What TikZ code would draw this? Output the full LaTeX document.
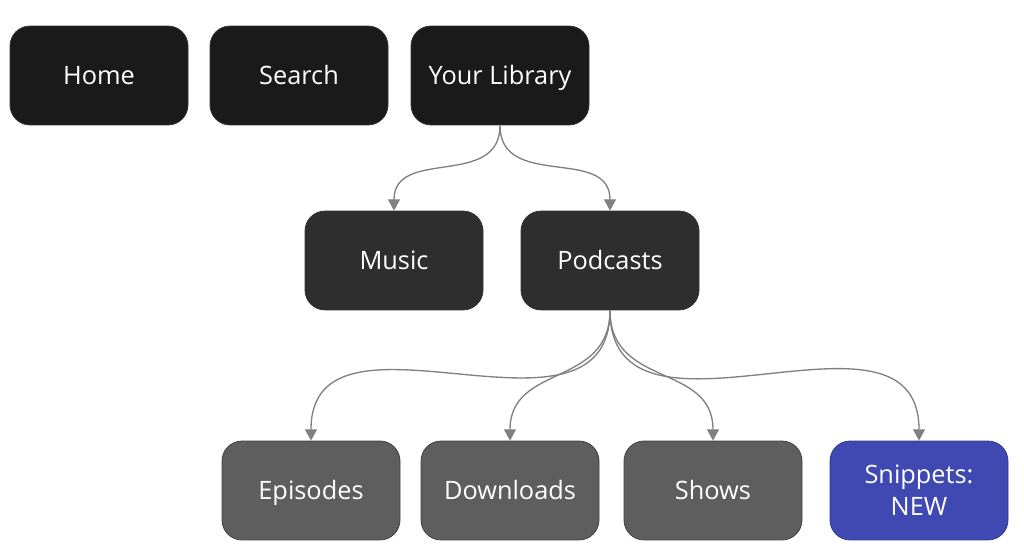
\documentclass[tikz,border=0pt]{standalone}
\usepackage{fontspec}
\setmainfont{Open Sans}
\usepackage{xcolor}
\usetikzlibrary{arrows.meta, positioning}
\definecolor{topgray}{HTML}{1A1A1A}
\definecolor{midgray}{HTML}{2E2E2E}
\definecolor{lowgray}{HTML}{5E5E5E}
\definecolor{newblue}{HTML}{3F49B1}
\definecolor{linkgray}{HTML}{808080}
\tikzset{
  tab/.style={rectangle, rounded corners=15pt, draw=black!80, line width=0.6pt,
              minimum width=133.5pt, minimum height=74.2pt, inner sep=0pt,
              text height=18pt, text depth=4.4pt,
              text=white, font=\fontsize{19}{24}\selectfont, align=center},
  top/.style={tab, fill=topgray},
  sub/.style={tab, fill=midgray},
  leaf/.style={tab, fill=lowgray, draw=lowgray!70!black},
  fresh/.style={tab, fill=newblue, draw=newblue!80!black,
                text height=, text depth=},
  link/.style={-{Triangle[width=9pt, length=8.5pt]}, draw=linkgray, line width=1pt}
}
\begin{document}
\begin{tikzpicture}[x=0.75pt, y=-0.75pt]
  \useasboundingbox (0,0) rectangle (1024,555);
  % top bar
  \node[top] (home)    at (99,75.5)  {Home};
  \node[top] (search)  at (299,75.5) {Search};
  \node[top] (library) at (500,75.5) {Your Library};
  % library
  \node[sub] (music)    at (394,260.5) {Music};
  \node[sub] (podcasts) at (610,260.5) {Podcasts};
  % podcasts
  \node[leaf]  (episodes)  at (311,490.5) {Episodes};
  \node[leaf]  (downloads) at (510,490.5) {Downloads};
  \node[leaf]  (shows)     at (713,490.5) {Shows};
  \node[fresh] (snippets)  at (919,490.5) {Snippets:\\NEW};
  \draw[link] (library.south) to[out=-90, in=90, looseness=1.2] (music.north);
  \draw[link] (library.south) to[out=-90, in=90, looseness=1.2] (podcasts.north);
  \foreach \leaf in {episodes, downloads, shows, snippets}
    \draw[link] (podcasts.south) to[out=-90, in=90, looseness=1.2] (\leaf.north);
\end{tikzpicture}
\end{document}
